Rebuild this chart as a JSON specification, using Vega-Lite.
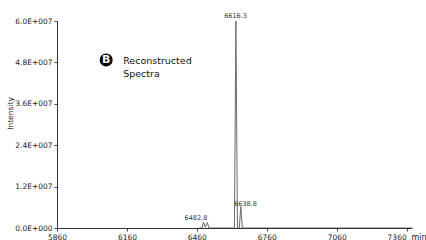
{
  "$schema": "https://vega.github.io/schema/vega-lite/v6.json",
  "width": 355,
  "height": 207,
  "autosize": {"type": "none"},
  "padding": {"left": 57, "top": 21, "right": 14, "bottom": 12},
  "background": "white",
  "config": {
    "view": {"stroke": null},
    "font": "DejaVu Sans",
    "axis": {"grid": false, "labelFont": "DejaVu Sans", "titleFont": "DejaVu Sans", "labelColor": "#222", "titleColor": "#222", "domainColor": "#333", "tickColor": "#444", "tickSize": 3, "labelFontSize": 7.5, "titleFontSize": 7.5, "titleFontWeight": "normal"}
  },
  "datasets": {
    "spectrum": [
      {"mass": 6470, "intensity": 0},
      {"mass": 6482, "intensity": 0},
      {"mass": 6488, "intensity": 1700000},
      {"mass": 6496, "intensity": 200000},
      {"mass": 6505, "intensity": 1600000},
      {"mass": 6512, "intensity": 0},
      {"mass": 6621, "intensity": 0},
      {"mass": 6627.5, "intensity": 60000000},
      {"mass": 6634, "intensity": 0},
      {"mass": 6642, "intensity": 0},
      {"mass": 6648.5, "intensity": 6200000},
      {"mass": 6655, "intensity": 0},
      {"mass": 7383, "intensity": 0}
    ],
    "labels": [
      {"mass": 6626, "intensity": 60900000, "text": "6616.3"},
      {"mass": 6669, "intensity": 6400000, "text": "6638.8"},
      {"mass": 6456, "intensity": 2300000, "text": "6482.8"}
    ],
    "badge": [
      {"mass": 6071, "intensity": 48700000, "letter": "B", "caption": "Reconstructed\nSpectra", "captionMass": 6144, "captionIntensity": 47500000}
    ]
  },
  "layer": [
    {
      "data": {"name": "spectrum"},
      "mark": {"type": "line", "color": "#6a6a6a", "strokeWidth": 1, "clip": true},
      "encoding": {
        "x": {
          "field": "mass", "type": "quantitative",
          "scale": {"domain": [5860, 7383], "nice": false, "zero": false},
          "axis": {
            "values": [5860, 5935, 6010, 6085, 6160, 6235, 6310, 6385, 6460, 6535, 6610, 6685, 6760, 6835, 6910, 6985, 7060, 7135, 7210, 7285, 7360],
            "format": "d",
            "labelExpr": "(datum.value - 5860) % 300 == 0 ? datum.label : ''",
            "labelPadding": 2,
            "labelOverlap": false,
            "labelFlush": false,
            "labelOffset": {"condition": {"test": "datum.value == 7360", "value": -10}, "value": 0},
            "title": "min",
            "titleAlign": "left",
            "titleAnchor": "start",
            "titleX": 354,
            "titleY": 5,
            "titleBaseline": "top",
            "titleFontSize": 8
          }
        },
        "y": {
          "field": "intensity", "type": "quantitative",
          "scale": {"domain": [0, 60000000], "nice": false},
          "axis": {
            "values": [0, 3000000, 6000000, 9000000, 12000000, 15000000, 18000000, 21000000, 24000000, 27000000, 30000000, 33000000, 36000000, 39000000, 42000000, 45000000, 48000000, 51000000, 54000000, 57000000, 60000000],
            "labelExpr": "datum.value % 12000000 == 0 ? (datum.value == 0 ? '0.0E+000' : format(datum.value / 10000000, '.1f') + 'E+007') : ''",
            "labelPadding": 2,
            "labelOverlap": false,
            "labelFlush": false,
            "title": "Intensity",
            "titleX": -43,
            "titleY": 92,
            "titleAlign": "center"
          }
        }
      }
    },
    {
      "data": {"name": "labels"},
      "mark": {"type": "text", "fontSize": 6.5, "color": "#333", "baseline": "alphabetic", "align": "center", "clip": false},
      "encoding": {
        "x": {"field": "mass", "type": "quantitative"},
        "y": {"field": "intensity", "type": "quantitative"},
        "text": {"field": "text"}
      }
    },
    {
      "data": {"name": "badge"},
      "mark": {"type": "point", "filled": true, "color": "black", "opacity": 1, "size": 170, "shape": "circle"},
      "encoding": {
        "x": {"field": "mass", "type": "quantitative"},
        "y": {"field": "intensity", "type": "quantitative"}
      }
    },
    {
      "data": {"name": "badge"},
      "mark": {"type": "text", "fontSize": 11, "fontWeight": "bold", "color": "white", "align": "center", "baseline": "middle"},
      "encoding": {
        "x": {"field": "mass", "type": "quantitative"},
        "y": {"field": "intensity", "type": "quantitative"},
        "text": {"field": "letter"}
      }
    },
    {
      "data": {"name": "badge"},
      "mark": {"type": "text", "fontSize": 9.5, "color": "#111", "align": "left", "baseline": "alphabetic", "lineBreak": "\n", "lineHeight": 13},
      "encoding": {
        "x": {"field": "captionMass", "type": "quantitative"},
        "y": {"field": "captionIntensity", "type": "quantitative"},
        "text": {"field": "caption"}
      }
    }
  ]
}
